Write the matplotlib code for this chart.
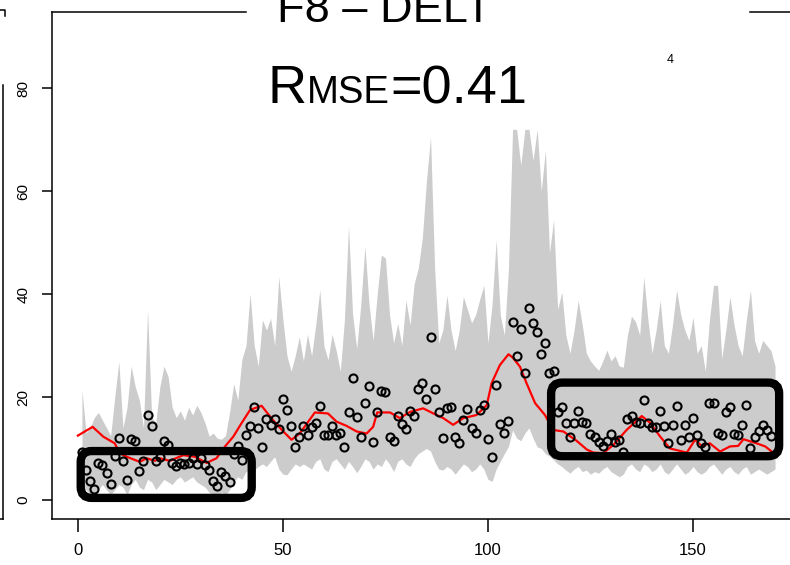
import numpy as np
import matplotlib
matplotlib.use("Agg")
import matplotlib.pyplot as plt
from matplotlib import font_manager
from matplotlib.patches import FancyBboxPatch
from matplotlib.lines import Line2D

# observed values (open circles), one per time step
obs = [9.3, 5.8, 3.7, 2.1, 7.2, 6.7, 5.2, 3.1, 8.5, 12.1,
       7.6, 3.9, 11.8, 11.5, 5.6, 7.6, 16.5, 14.4, 7.6, 8.4,
       11.5, 10.7, 7.2, 6.5, 7.1, 7.0, 7.1, 8.1, 7.0, 8.1,
       6.8, 5.8, 3.7, 2.7, 5.5, 4.7, 3.4, 8.9, 10.5, 7.8,
       12.6, 14.4, 18.0, 14.0, 10.3, 15.7, 14.6, 15.7, 13.7, 19.6,
       17.5, 14.4, 10.2, 12.3, 14.4, 12.7, 14.2, 15.0, 18.3, 12.6,
       12.6, 14.4, 12.7, 13.1, 10.2, 17.1, 23.6, 16.2, 12.3, 18.8,
       22.1, 11.3, 17.1, 21.2, 21.0, 12.3, 11.5, 16.4, 14.8, 13.7,
       17.3, 16.4, 21.5, 22.7, 19.7, 31.7, 21.5, 17.0, 12.0, 17.8,
       18.1, 12.3, 11.1, 15.5, 17.6, 14.0, 13.0, 17.5, 18.4, 11.9,
       8.4, 22.3, 14.7, 13.1, 15.3, 34.6, 28.0, 33.3, 24.7, 37.3,
       34.4, 32.6, 28.3, 30.4, 24.6, 25.1, 17.1, 18.1, 15.0, 12.3,
       14.9, 17.3, 15.2, 14.9, 12.8, 12.3, 11.3, 10.5, 11.5, 12.8,
       11.3, 11.7, 9.4, 15.7, 16.3, 15.2, 14.9, 19.4, 15.0, 14.2,
       14.1, 17.3, 14.4, 11.0, 14.6, 18.3, 11.7, 14.6, 12.3, 16.0,
       12.6, 11.1, 10.2, 18.8, 18.8, 13.1, 12.6, 17.0, 18.0, 12.8,
       12.6, 14.6, 18.4, 10.0, 12.2, 13.3, 14.6, 13.6, 12.4]
obs_x = np.arange(1, len(obs) + 1)

# predicted mean (red line)
mean_x = [0, 3.6, 6.2, 9, 10.2, 11.9, 15.1, 16.8, 18.8, 20,
          22.4, 25.7, 28.5, 31.4, 33.8, 35.9, 37.9, 39.9, 42, 44.8,
          47.6, 50.1, 52.1, 54.1, 57.8, 61, 63.1, 65.5, 68, 70.4,
          72, 73, 76.1, 78.5, 81, 84.2, 86.7, 89.1, 91.5, 94,
          97.2, 99.7, 100.9, 102.9, 105, 106, 107.8, 109.4, 111.5, 113.9,
          115.9, 118.4, 121.6, 124.1, 125.7, 128.1, 130.6, 133.8, 137.5, 139.5,
          142, 144.4, 148.5, 150.5, 152.1, 154.1, 156.6, 159, 161, 162.3,
          165.5, 167.6, 169.2]
mean_y = [12.5, 14.2, 12.3, 11, 9.1, 8.4, 7.4, 8.1, 7.6, 8.1,
          7.6, 8.7, 8.4, 7.2, 8.1, 10.4, 12.3, 14.9, 17.5, 18.3,
          15.5, 13.3, 11.7, 12.9, 17, 16.8, 15.2, 14.4, 13.3, 12.9,
          14.2, 17, 17, 15.9, 17.1, 17.8, 16.8, 15.9, 14.6, 15.9,
          16.5, 18.4, 22.7, 26.2, 28.3, 27.7, 25.9, 22.7, 18.8, 16.5,
          13.6, 13.3, 11.5, 9.8, 9.2, 9.1, 10.7, 13.6, 16.3, 15,
          12.3, 10, 9.2, 11.7, 10.5, 11, 9.4, 10.4, 10.5, 11.8,
          11, 10.4, 9.4]

# prediction interval (grey band)
upper = [21.4, 13, 14, 16, 17, 15.5, 14, 12.5, 20, 26.9,
         14, 18, 26, 22, 19.4, 14, 37, 16.1, 15, 22,
         26, 24, 18, 16, 17.3, 15.5, 18, 16.5, 18.4, 17,
         15, 12.4, 13, 12, 11.8, 12.5, 17, 22.6, 19.4, 27.3,
         30, 40.1, 30, 26, 35, 33, 35.3, 30, 43.4, 35,
         28, 25, 28, 31.7, 27, 32.2, 28, 34, 40.8, 30,
         27.2, 32.2, 29, 25, 35, 53.2, 36, 29.4, 38, 49.3,
         38, 31, 40, 47.6, 47, 36, 30.5, 34.3, 30, 38.8,
         34, 42, 45, 50.9, 62, 70.5, 45, 30.5, 33, 39.8,
         33, 29, 33, 39.5, 37, 34.4, 36, 39, 41.7, 30.5,
         38, 50.5, 36, 32, 45, 72, 72, 65, 72, 72,
         66, 72, 60, 68, 48, 54.4, 37, 40.4, 32, 28.5,
         33, 38.8, 34, 28.5, 27, 26, 25.2, 27, 29.1, 27,
         28, 26, 25.8, 32, 35.7, 34.6, 32, 43.4, 35, 28.5,
         33, 38.8, 30, 28.5, 34, 40.8, 36, 33, 31, 35.5,
         28.5, 30, 25, 35, 41.7, 41.7, 27.5, 33, 39.5, 34,
         30, 28, 35, 40.8, 31, 28.5, 31, 30, 29, 26]
lower = [2.5, 2, 1, 0.5, 2, 3, 2, 1, 2, 3,
         2.5, 1, 3, 4, 2.5, 2, 4, 3.5, 2, 3,
         4, 3.5, 3, 4, 4.5, 3.5, 4, 4.5, 3.5, 3,
         2.5, 1.5, 1, 0.5, 1.5, 1, 2, 3.5, 4.5, 4,
         5.5, 6, 5.8, 6.5, 7, 6.5, 7.5, 8.4, 6, 5,
         4.9, 6, 7, 6.5, 7, 6.5, 6, 7.5, 8, 6,
         5.5, 7.5, 8, 7, 6, 7.5, 6.5, 5.3, 6.5, 8,
         7.5, 6, 7, 6.5, 8, 7, 5.5, 7.5, 8, 7,
         6.5, 8, 9, 9.5, 10, 9.5, 7.5, 6, 5.8, 6.5,
         6, 5, 6, 7, 6.5, 5.5, 6, 7, 6, 4,
         3.6, 6, 7.5, 9, 10.4, 13.6, 12, 11.5, 13, 14,
         12, 10.3, 10, 9, 8.5, 7.8, 7, 6.5, 5.8, 5.2,
         6, 6.5, 5.5, 5.8, 5, 5.5, 5.2, 6, 6.5, 5.5,
         5, 4.5, 5, 6.5, 7, 6, 5.5, 7, 6.5, 5.5,
         6, 7, 5.5, 5, 6, 7, 6, 5, 5.5, 6.5,
         5.5, 5, 5.5, 6.5, 7, 6, 5, 6, 6.5, 5.5,
         5, 6, 6.5, 5, 5.5, 6, 5.5, 5, 5.5, 6]
band_x = np.arange(1, len(upper) + 1)

xticks = [0, 50, 100, 150]
yticks = [0, 20, 40, 60, 80]

# highlighted regions: (x0, x1, y0, y1)
box_low = (0.7, 42.4, 0.4, 9.5)
box_high = (115.4, 171.0, 8.5, 22.8)

title = "F8 \u2013 DELT"
rmse_text = ("R", "MSE", "=0.41")
corner_mark = "4"

W, H = 790, 565


def narrow_family():
    try:
        font_manager.findfont("Liberation Sans Narrow", fallback_to_default=False)
        return "Liberation Sans Narrow"
    except Exception:
        return "Liberation Sans"


fig = plt.figure(figsize=(W / 100, H / 100), dpi=100)
ax = fig.add_axes([52 / W, 1 - 519 / H, (801.7 - 52) / W, (519 - 12) / H])
ax.set_xlim(-6.3, 176.5)
ax.set_ylim(-3.7, 94.8)

ax.fill_between(band_x, lower, upper, color="#cccccc", lw=0, zorder=1)
ax.plot(mean_x, mean_y, color="#ff0000", lw=1.6, zorder=2)
ax.plot(obs_x, obs, "o", mfc="none", mec="black", ms=5.8, mew=1.5, zorder=3)

# rounded boxes, radius kept circular on screen
xpx = ax.get_position().width * W / (176.5 + 6.3)
ypx = ax.get_position().height * H / (94.8 + 3.7)
for x0, x1, y0, y1 in (box_low, box_high):
    p = FancyBboxPatch((x0, y0), x1 - x0, y1 - y0,
                       boxstyle="round,pad=0,rounding_size=%.2f" % (11 / xpx),
                       mutation_aspect=xpx / ypx,
                       fc="none", ec="black", lw=6, zorder=4, clip_on=False)
    ax.add_patch(p)

for s in ["right", "top"]:
    ax.spines[s].set_visible(False)
for s in ["left", "bottom"]:
    ax.spines[s].set_linewidth(1.1)
gap0 = (246 - 52) / (801.7 - 52)
gap1 = (750 - 52) / (801.7 - 52)
for a, b in [(0, gap0), (gap1, 1)]:
    ax.add_line(Line2D([a, b], [1, 1], transform=ax.transAxes, color="black",
                       lw=1.1, clip_on=False))

ax.set_xticks(xticks)
ax.set_xticklabels([str(v) for v in xticks], family=narrow_family(), fontsize=12)
ax.set_yticks(yticks)
ax.set_yticklabels([str(v) for v in yticks], rotation=90, va="center",
                   family="Liberation Sans", fontsize=11)
ax.tick_params(axis="x", length=9, width=1.1, pad=8)
ax.tick_params(axis="y", length=7.5, width=1.1, pad=8)

# titles
fig.text(277 / W, 1 - 22 / H, title, family="Liberation Sans", fontsize=32.5,
         va="baseline", ha="left")
fig.canvas.draw()
x = 268
sizes = [39, 27.5, 39]
for txt, sz in zip(rmse_text, sizes):
    t = fig.text(x / W, 1 - 103 / H, txt, family="Liberation Sans", fontsize=sz,
                 va="baseline", ha="left")
    fig.canvas.draw()
    bb = t.get_window_extent()
    x = bb.x1
fig.text(670 / W, 1 - 60 / H, corner_mark, family="Liberation Sans",
         fontsize=9, ha="center", va="center")

# edge of the neighbouring panel on the left
fig.add_artist(Line2D([3 / W, 3 / W], [1 - 85 / H, 1 - 519 / H],
                      transform=fig.transFigure, color="black", lw=1.1))
fig.add_artist(Line2D([0, 3 / W], [1 - 519 / H, 1 - 519 / H],
                      transform=fig.transFigure, color="black", lw=1.1))
fig.add_artist(Line2D([0, 5 / W, 5 / W], [1 - 10 / H, 1 - 10 / H, 1 - 16 / H],
                      transform=fig.transFigure, color="black", lw=1.1))

fig.savefig("out.png", dpi=100)
